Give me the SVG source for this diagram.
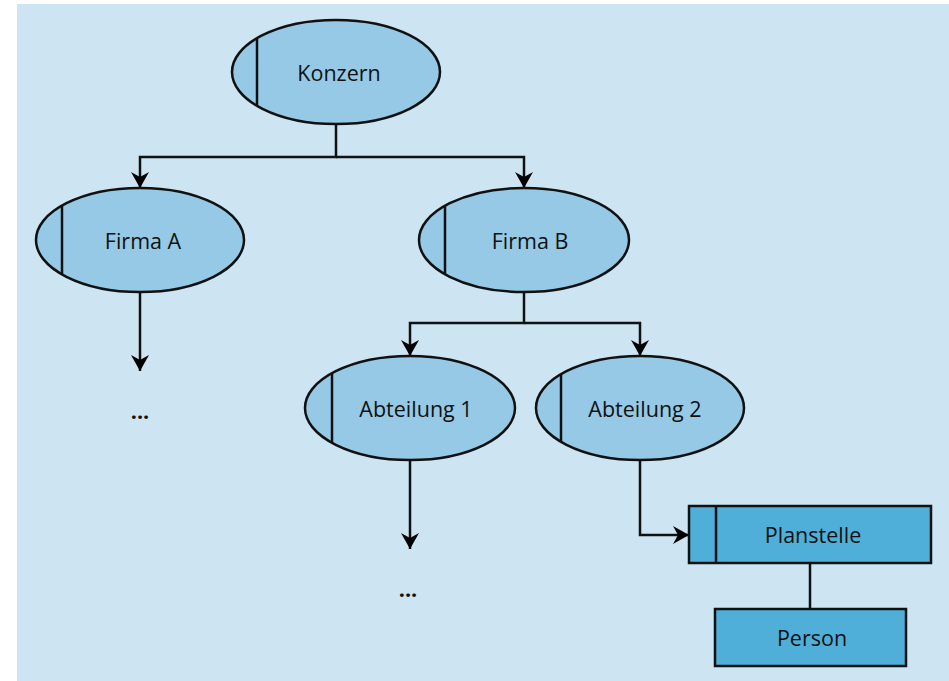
<svg xmlns="http://www.w3.org/2000/svg" width="949" height="681" viewBox="0 0 949 681">
<defs>
<marker id="arr" viewBox="0 0 16 18" refX="16" refY="9" markerWidth="16" markerHeight="18" markerUnits="userSpaceOnUse" orient="auto">
<path d="M0,0 L16,9 L0,18 L5,9 Z" fill="#000"/>
</marker>
</defs>
<style>
.ell{fill:#95c9e6;stroke:#111;stroke-width:2.5}
.box{fill:#4fafd8;stroke:#111;stroke-width:2.5}
.ln{fill:none;stroke:#111;stroke-width:2.5}
.t{font-family:"Open Sans","Noto Sans",sans-serif;font-size:21.5px;fill:#111;text-anchor:middle;dominant-baseline:central}
</style>
<rect x="17" y="4" width="932" height="677" fill="#cde4f2"/>
<g id="connectors">
<path class="ln" d="M336,124 V157 H140 V188" marker-end="url(#arr)"/>
<path class="ln" d="M336,157 H524 V188" marker-end="url(#arr)"/>
<path class="ln" d="M140,292 V371" marker-end="url(#arr)"/>
<path class="ln" d="M524,292 V323 H410 V356" marker-end="url(#arr)"/>
<path class="ln" d="M524,323 H640 V356" marker-end="url(#arr)"/>
<path class="ln" d="M410,461 V549" marker-end="url(#arr)"/>
<path class="ln" d="M640,461 V535 H689" marker-end="url(#arr)"/>
<path class="ln" d="M810,563 V609"/>
</g>
<g id="konzern">
<ellipse class="ell" cx="336" cy="72" rx="104" ry="52"/>
<line class="ln" x1="257" y1="38" x2="257" y2="106"/>
<text class="t" x="339" y="72">Konzern</text>
</g>
<g id="firmaA">
<ellipse class="ell" cx="140" cy="240" rx="104" ry="52"/>
<line class="ln" x1="62" y1="206" x2="62" y2="274"/>
<text class="t" x="143" y="240">Firma A</text>
</g>
<g id="firmaB">
<ellipse class="ell" cx="524" cy="240" rx="105" ry="52"/>
<line class="ln" x1="445" y1="206" x2="445" y2="274"/>
<text class="t" x="530" y="240">Firma B</text>
</g>
<g id="abteilung1">
<ellipse class="ell" cx="410" cy="408" rx="105" ry="52"/>
<line class="ln" x1="332" y1="374" x2="332" y2="442"/>
<text class="t" x="416" y="408">Abteilung 1</text>
</g>
<g id="abteilung2">
<ellipse class="ell" cx="640" cy="408" rx="104" ry="52"/>
<line class="ln" x1="561" y1="374" x2="561" y2="442"/>
<text class="t" x="645" y="408">Abteilung 2</text>
</g>
<g id="dotsA">
<text class="t" x="140" y="410" font-weight="bold">...</text>
</g>
<g id="dots1">
<text class="t" x="408" y="588" font-weight="bold">...</text>
</g>
<g id="planstelle">
<rect class="box" x="689" y="506" width="242" height="57"/>
<line class="ln" x1="716" y1="506" x2="716" y2="563"/>
<text class="t" x="813" y="534">Planstelle</text>
</g>
<g id="person">
<rect class="box" x="715" y="609" width="191" height="57"/>
<text class="t" x="812" y="637">Person</text>
</g>
</svg>
